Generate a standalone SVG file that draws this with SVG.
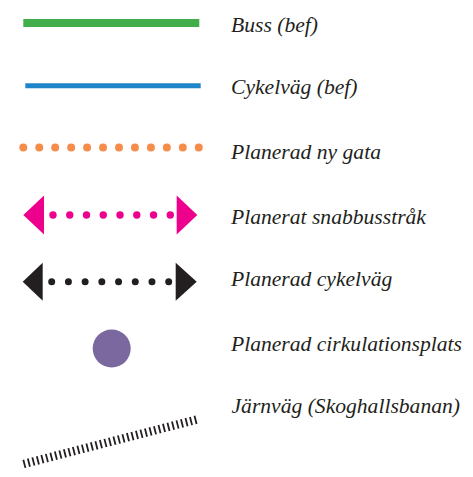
<svg xmlns="http://www.w3.org/2000/svg" width="473" height="477" viewBox="0 0 473 477">
<style>
.lbl{font-family:"Liberation Serif","Times New Roman",serif;font-style:italic;font-size:21.6px;fill:#231f20}
.dots{fill:none;stroke-linecap:round}
</style>
<rect width="473" height="477" fill="#ffffff"/>
<g id="buss">
<line x1="23.3" y1="23" x2="199.3" y2="23" stroke="#41ae4b" stroke-width="8"/>
<text class="lbl" x="231" y="31.5">Buss (bef)</text>
</g>
<g id="cykelvag">
<line x1="25.3" y1="85.7" x2="200.7" y2="85.7" stroke="#1f87c9" stroke-width="5"/>
<text class="lbl" x="231" y="93.5">Cykelväg (bef)</text>
</g>
<g id="ny-gata">
<line class="dots" x1="23.3" y1="147.5" x2="198.8" y2="147.5" stroke="#f58d4a" stroke-width="8" stroke-dasharray="0 15.95"/>
<text class="lbl" x="231" y="159.3">Planerad ny gata</text>
</g>
<g id="snabbuss">
<polygon points="23.3,215 44,195.5 44,234.5" fill="#ec008c"/>
<polygon points="197.3,215 176.7,195.5 176.7,234.5" fill="#ec008c"/>
<line class="dots" x1="53" y1="215" x2="170.3" y2="215" stroke="#ec008c" stroke-width="7.4" stroke-dasharray="0 16.757"/>
<text class="lbl" x="231" y="224">Planerat snabbusstråk</text>
</g>
<g id="plan-cykel">
<polygon points="22.7,281.7 42.7,262.7 42.7,300.7" fill="#231f20"/>
<polygon points="196.7,281.7 175.7,262.7 175.7,300.7" fill="#231f20"/>
<line class="dots" x1="51.7" y1="281.7" x2="168.7" y2="281.7" stroke="#231f20" stroke-width="7" stroke-dasharray="0 16.714"/>
<text class="lbl" x="231" y="286">Planerad cykelväg</text>
</g>
<g id="cirkulation">
<circle cx="111.7" cy="348.5" r="19" fill="#7a689e"/>
<text class="lbl" x="231" y="350.7">Planerad cirkulationsplats</text>
</g>
<g id="jarnvag">
<line x1="23.5" y1="464" x2="197" y2="419.5" stroke="#231f20" stroke-width="8.5" stroke-dasharray="1.8 2.85"/>
<text class="lbl" x="231.5" y="413.3">Järnväg (Skoghallsbanan)</text>
</g>
<g id="connectors"></g>
</svg>
